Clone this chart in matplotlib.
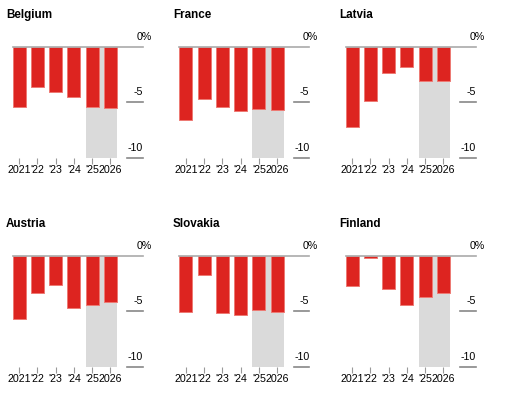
import matplotlib
matplotlib.use('Agg')
from matplotlib import pyplot as plt
from matplotlib import transforms

plt.rcParams['font.family'] = ['Liberation Sans', 'DejaVu Sans']

# Define data (budget balance, % of GDP).
countries = ['Belgium', 'France', 'Latvia', 'Austria', 'Slovakia', 'Finland']
year_labels = ['2021', "'22", "'23", "'24", "'25", '2026']
belgium = [-5.4, -3.6, -4.1, -4.5, -5.4, -5.5]
france = [-6.6, -4.7, -5.4, -5.8, -5.6, -5.7]
latvia = [-7.2, -4.9, -2.4, -1.8, -3.1, -3.1]
austria = [-5.7, -3.4, -2.6, -4.7, -4.4, -4.2]
slovakia = [-5.1, -1.7, -5.2, -5.3, -4.9, -5.1]
finland = [-2.7, -0.2, -3.0, -4.4, -3.7, -3.4]
series = [belgium, france, latvia, austria, slovakia, finland]
forecast_from = 4  # '25 and 2026 are forecasts
y_ticks = [0, -5, -10]
y_labels = ['0%', '-5', '-10']

W, H = 507, 397
fig = plt.figure(figsize=(W / 100, H / 100), dpi=100)

lefts = [12.7, 179.3, 345.7]
tops = [46.7, 255.7]
panel_w, panel_h = 130, 111
bar_w = 0.71

for i, (name, values) in enumerate(zip(countries, series)):
    left = lefts[i % 3]
    top = tops[i // 3]
    ax = fig.add_axes([left / W, 1 - (top + panel_h) / H, panel_w / W, panel_h / H])
    x = list(range(len(values)))

    # Forecast shading.
    ax.axvspan(forecast_from - bar_w / 2, len(values) - 1 + bar_w / 2,
               color='#dadada', lw=0, zorder=0)

    # Make bars.
    ax.bar(x, values, width=bar_w, color='#dd2420', edgecolor='#ee7a74',
           linewidth=0.7, zorder=2)

    # Gridlines and zero line.
    ax.axhline(0, color='#aaaaaa', lw=1.2, zorder=3, clip_on=False)
    for yv in y_ticks[1:]:
        ax.axhline(yv, xmin=0.88, xmax=1.0, color='#888888', lw=1.2,
                   zorder=3, clip_on=False)

    # Right-side labels.
    trans = ax.get_yaxis_transform()
    for yv, lab in zip(y_ticks, y_labels):
        dx = 9 if lab.endswith('%') else 0
        t = transforms.offset_copy(trans, fig=fig, x=dx, y=5, units='dots')
        ax.text(1.0, yv, lab, transform=t, ha='right', va='bottom',
                fontsize=7.7, color='black')

    ax.set_xlim(-bar_w / 2, -bar_w / 2 + panel_w / 18.26)
    ax.set_ylim(-10, 0)
    ax.set_xticks(x)
    ax.set_xticklabels(year_labels)
    ax.set_yticks([])
    ax.tick_params(axis='x', length=4, width=0.8, color='#999999', pad=1,
                   labelsize=7.7, labelcolor='black')
    for s in ax.spines.values():
        s.set_visible(False)

    # Panel title.
    fig.text((left - 6.5) / W, 1 - (top - 28.5) / H, name, fontsize=8.4,
             fontweight='bold', ha='left', va='baseline', color='black')

fig.savefig('out.png', dpi=100)
